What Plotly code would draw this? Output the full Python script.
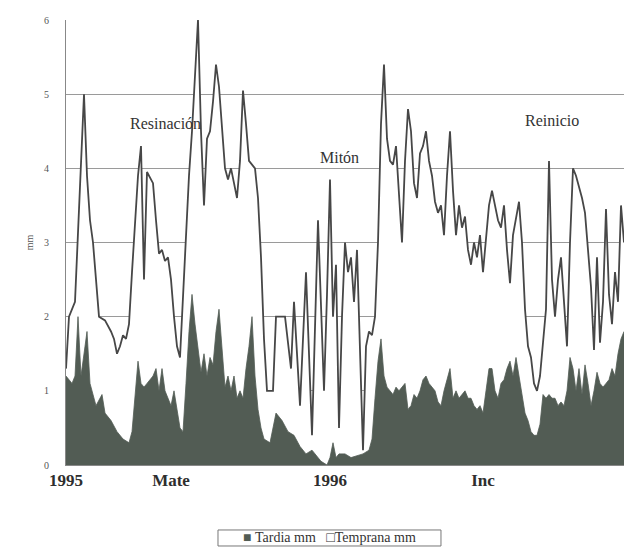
import plotly.graph_objects as go

# Early-wood (temprana) width series: sample position and width in mm
temprana_pos = [0, 1, 3, 6, 7, 8, 9, 11, 13, 15, 16, 17, 18, 19, 20, 21, 22, 24, 25, 26,
                27, 29, 30, 31, 32, 33, 34, 35, 36, 37, 38, 39, 40, 41, 42, 44, 45, 46, 47, 48,
                49, 50, 51, 52, 53, 54, 55, 56, 57, 58, 59, 60, 61, 62, 63, 64, 65, 66, 67, 69,
                70, 73, 75, 76, 78, 80, 82, 84, 85, 86, 87, 88, 89, 90, 91, 92, 93, 94, 95, 96,
                97, 98, 99, 100, 101, 102, 103, 104, 105, 106, 107, 108, 109, 110, 111, 112, 113, 114, 115, 116,
                117, 118, 119, 120, 121, 122, 123, 124, 125, 126, 127, 128, 129, 130, 131, 132, 133, 134, 135, 136,
                137, 138, 139, 140, 141, 142, 143, 144, 145, 146, 147, 148, 149, 150, 151, 152, 153, 154, 155, 156,
                157, 158, 159, 160, 161, 162, 163, 164, 165, 166, 167, 168, 169, 170, 171, 172, 173, 174, 175, 176,
                177, 178, 179, 180, 181, 182, 183, 184, 185, 186]
temprana_mm = [1.3, 2.0, 2.2, 5.0, 3.9, 3.3, 3.0, 2.0, 1.95, 1.8, 1.7, 1.5, 1.6, 1.75, 1.7, 1.9, 2.6, 3.9, 4.3, 2.5,
               3.95, 3.8, 3.3, 2.85, 2.9, 2.75, 2.8, 2.5, 2.0, 1.6, 1.45, 2.3, 3.0, 3.9, 4.5, 6.0, 4.5, 3.5, 4.4, 4.5,
               4.9, 5.4, 5.1, 4.5, 4.0, 3.85, 4.0, 3.8, 3.6, 4.1, 5.05, 4.6, 4.1, 4.05, 4.0, 3.6, 2.8, 1.7, 1.0, 1.0,
               2.0, 2.0, 1.3, 2.2, 0.8, 2.6, 0.4, 3.3, 2.0, 1.0, 2.3, 3.85, 2.0, 2.7, 0.5, 2.0, 3.0, 2.6, 2.8, 2.2,
               2.9, 1.5, 0.2, 1.6, 1.8, 1.75, 2.0, 3.0, 4.6, 5.4, 4.4, 4.1, 4.05, 4.3, 3.6, 3.0, 4.1, 4.8, 4.5, 3.8,
               3.6, 4.2, 4.3, 4.5, 4.1, 3.9, 3.55, 3.4, 3.5, 3.1, 3.9, 4.5, 3.7, 3.1, 3.5, 3.2, 3.35, 2.9, 2.7, 3.0,
               2.8, 3.1, 2.6, 3.0, 3.5, 3.7, 3.5, 3.3, 3.2, 3.5, 2.9, 2.45, 3.1, 3.3, 3.55, 3.0, 2.1, 1.6, 1.45, 1.1,
               1.0, 1.2, 1.6, 2.1, 4.1, 2.5, 2.0, 2.5, 2.8, 2.2, 1.6, 3.0, 4.0, 3.9, 3.75, 3.6, 3.4, 2.9, 2.4, 1.55,
               2.8, 1.65, 2.2, 3.45, 2.3, 1.9, 2.6, 2.2, 3.5, 3.0]

# Late-wood (tardia) width series
tardia_pos = [0, 2, 3, 4, 5, 7, 8, 9, 10, 12, 13, 15, 17, 19, 21, 22, 24, 25, 26, 27,
              29, 30, 31, 32, 33, 35, 36, 38, 39, 40, 41, 42, 43, 45, 46, 47, 48, 49, 50, 51,
              52, 53, 54, 55, 56, 57, 58, 59, 60, 61, 62, 63, 64, 65, 66, 68, 70, 71, 72, 74,
              76, 78, 80, 82, 83, 85, 87, 88, 89, 90, 91, 93, 95, 97, 99, 101, 102, 103, 104, 105,
              106, 107, 108, 109, 110, 111, 113, 114, 115, 116, 117, 118, 119, 120, 121, 122, 123, 124, 125, 126,
              128, 129, 130, 131, 132, 133, 134, 135, 136, 137, 138, 139, 140, 141, 142, 143, 144, 145, 146, 147,
              148, 149, 150, 151, 152, 153, 154, 155, 156, 157, 158, 159, 160, 161, 162, 163, 164, 165, 166, 167,
              168, 169, 170, 171, 172, 173, 174, 175, 176, 177, 178, 179, 180, 181, 182, 183, 184, 185, 186]
tardia_mm = [1.2, 1.1, 1.2, 2.0, 1.2, 1.8, 1.1, 0.95, 0.8, 0.95, 0.7, 0.6, 0.45, 0.35, 0.3, 0.45, 1.4, 1.1, 1.05, 1.1,
             1.2, 1.3, 1.0, 1.3, 1.0, 0.8, 1.0, 0.5, 0.45, 1.1, 1.8, 2.3, 1.9, 1.25, 1.5, 1.2, 1.45, 1.35, 1.8, 2.1,
             1.5, 1.05, 1.2, 1.0, 1.2, 0.9, 1.0, 0.9, 1.3, 1.6, 2.0, 1.2, 0.75, 0.5, 0.35, 0.3, 0.7, 0.65, 0.6, 0.45,
             0.4, 0.25, 0.15, 0.2, 0.15, 0.05, 0.0, 0.1, 0.3, 0.1, 0.15, 0.15, 0.1, 0.12, 0.15, 0.2, 0.35, 0.9, 1.4, 1.7,
             1.2, 1.05, 1.0, 0.95, 1.05, 1.0, 1.1, 0.75, 0.8, 0.95, 0.9, 1.0, 1.15, 1.2, 1.1, 1.05, 1.0, 0.85, 0.8, 1.0,
             1.3, 0.9, 1.0, 0.9, 0.95, 1.0, 0.9, 0.9, 0.8, 0.75, 0.8, 0.7, 1.0, 1.3, 1.3, 1.0, 0.9, 1.1, 1.15, 1.3,
             1.4, 1.2, 1.45, 1.2, 1.0, 0.7, 0.6, 0.45, 0.4, 0.4, 0.55, 0.95, 0.9, 0.95, 0.9, 0.9, 0.8, 0.85, 0.8, 1.0,
             1.45, 1.3, 1.0, 1.3, 0.95, 1.35, 1.1, 0.8, 1.0, 1.25, 1.1, 1.05, 1.1, 1.15, 1.3, 1.2, 1.5, 1.7, 1.8]

# Period labels along the time axis
xtick_pos = [0, 35, 88, 139]
xtick_text = ["1995", "Mate", "1996", "Inc"]

# Phase labels written over the plot
phase_text = ["Resinación", "Mitón", "Reinicio"]
phase_pos = [33, 91, 162]
phase_mm = [4.6, 4.15, 4.65]

# Legend entries
series_names = ["Tardia mm", "Temprana mm"]

serif = "Liberation Serif, Times New Roman, serif"
line_grey = "#474747"
dark_fill = "#525c54"

fig = go.Figure()

fig.add_trace(go.Scatter(
    x=temprana_pos, y=temprana_mm, name=series_names[1],
    mode="lines", fill="tozeroy", fillcolor="white",
    line=dict(color=line_grey, width=1.8),
))
fig.add_trace(go.Scatter(
    x=tardia_pos, y=tardia_mm, name=series_names[0],
    mode="lines", fill="tozeroy", fillcolor=dark_fill,
    line=dict(color=dark_fill, width=0.8),
))

for txt, px, py in zip(phase_text, phase_pos, phase_mm):
    fig.add_annotation(
        x=px, y=py, text=txt, showarrow=False,
        font=dict(family=serif, size=16, color="#333"),
    )

# Compact boxed legend below the axis
legend_text = (
    f'<span style="color:{dark_fill}">■</span>&nbsp;{series_names[0]}&nbsp;&nbsp;&nbsp;'
    f'<span style="color:#333">□</span>{series_names[1]}'
)
fig.add_shape(
    type="rect", xref="paper", yref="paper",
    x0=0.2724, x1=0.672, y0=-0.182, y1=-0.146,
    line=dict(color="#777", width=1), fillcolor="white",
)
fig.add_annotation(
    xref="paper", yref="paper", x=0.472, y=-0.164,
    text=legend_text, showarrow=False, xanchor="center", yanchor="middle",
    font=dict(family=serif, size=14, color="#333"),
)

fig.update_layout(
    width=624, height=550, autosize=False,
    margin=dict(l=66, r=0, t=20, b=85),
    paper_bgcolor="white", plot_bgcolor="white",
    showlegend=False,
    xaxis=dict(
        range=[0, 186], showgrid=False, zeroline=False,
        showline=True, linecolor="#888", linewidth=1,
        tickmode="array", tickvals=xtick_pos, ticktext=xtick_text,
        ticks="", tickfont=dict(family=serif, size=17, color="#2e2e2e", weight="bold"),
    ),
    yaxis=dict(
        range=[0, 6], dtick=1, showgrid=True, gridcolor="#9a9a9a", gridwidth=1,
        zeroline=False, showline=True, linecolor="#888", linewidth=1,
        ticks="", ticklabelstandoff=14,
        tickfont=dict(family=serif, size=10, color="#555"),
        title=dict(text="mm", font=dict(family=serif, size=10, color="#555"), standoff=8),
    ),
)

fig.write_html("out.html")
